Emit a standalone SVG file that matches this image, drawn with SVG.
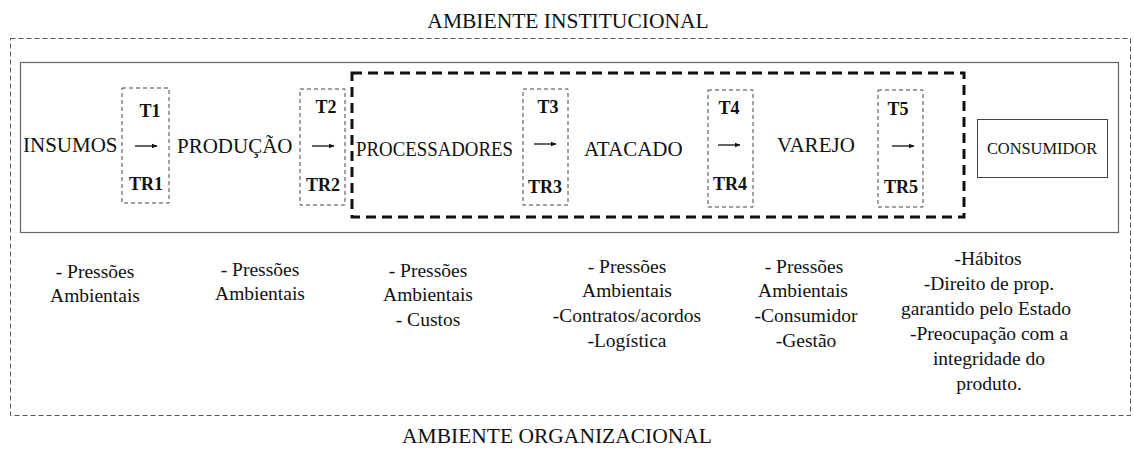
<svg xmlns="http://www.w3.org/2000/svg" width="1134" height="450" viewBox="0 0 1134 450" font-family="'Liberation Serif', 'Times New Roman', serif">
<style>
.env{font-size:21.5px;text-anchor:middle;fill:#111;}
.node{font-size:21px;fill:#111;}
.t{font-size:18px;font-weight:bold;text-anchor:middle;fill:#111;}
.note{font-size:19.5px;text-anchor:middle;fill:#111;}
.outer{fill:none;stroke:#555;stroke-width:1;stroke-dasharray:5 3;}
.inner{fill:none;stroke:#666;stroke-width:1.2;}
.chain{fill:none;stroke:#111;stroke-width:3;stroke-dasharray:10 6;}
.tbox{fill:none;stroke:#444;stroke-width:1;stroke-dasharray:4 3;}
.arr{stroke:#111;stroke-width:1.3;marker-end:url(#ah);}
</style>
<defs>
<marker id="ah" viewBox="0 0 10 10" refX="9" refY="5" markerWidth="6" markerHeight="6" markerUnits="userSpaceOnUse" orient="auto">
<path d="M0,1 L10,5 L0,9 Z" fill="#111"/>
</marker>
</defs>
<rect width="1134" height="450" fill="#fff"/>

<g id="ambiente-institucional" font-family="'Liberation Serif', serif">
<text class="env" x="568" y="28">AMBIENTE INSTITUCIONAL</text>
<rect class="outer" x="10.5" y="38.5" width="1120" height="377"/>
</g>
<g id="cadeia">
<rect class="inner" x="20.5" y="62.5" width="1098" height="170"/>
</g>
<g id="ambiente-organizacional" font-family="'Liberation Serif', serif">
<text class="env" x="557" y="443">AMBIENTE ORGANIZACIONAL</text>
</g>
<g id="grupo-tracejado">
<rect class="chain" x="352" y="73" width="612" height="144"/>
</g>

<g id="insumos" font-family="'Liberation Serif', serif"><text class="node" x="23" y="152">INSUMOS</text></g>
<g id="producao" font-family="'Liberation Serif', serif"><text class="node" x="177" y="153">PRODUÇÃO</text></g>
<g id="processadores" font-family="'Liberation Serif', serif"><text class="node" x="356" y="156" font-size="19" textLength="157" lengthAdjust="spacingAndGlyphs">PROCESSADORES</text></g>
<g id="atacado" font-family="'Liberation Serif', serif"><text class="node" x="584" y="156">ATACADO</text></g>
<g id="varejo" font-family="'Liberation Serif', serif"><text class="node" x="777" y="152">VAREJO</text></g>
<g id="consumidor" font-family="'Liberation Serif', serif">
<rect x="977.5" y="119.5" width="130" height="58" fill="none" stroke="#444" stroke-width="1"/>
<text x="1042" y="154" font-size="16.4" text-anchor="middle" fill="#111">CONSUMIDOR</text>
</g>

<g id="t1" font-family="'Liberation Serif', serif"><rect class="tbox" x="122" y="88" width="47" height="115"/><text class="t" x="150" y="117">T1</text><text class="t" x="146" y="190">TR1</text></g>
<g id="t2" font-family="'Liberation Serif', serif"><rect class="tbox" x="300" y="89" width="45" height="116"/><text class="t" x="326" y="113">T2</text><text class="t" x="323" y="191">TR2</text></g>
<g id="t3" font-family="'Liberation Serif', serif"><rect class="tbox" x="523" y="89" width="45" height="116"/><text class="t" x="548" y="113">T3</text><text class="t" x="545" y="193">TR3</text></g>
<g id="t4" font-family="'Liberation Serif', serif"><rect class="tbox" x="708" y="90" width="45" height="117"/><text class="t" x="729" y="114">T4</text><text class="t" x="730" y="190">TR4</text></g>
<g id="t5" font-family="'Liberation Serif', serif"><rect class="tbox" x="878" y="90" width="45" height="117"/><text class="t" x="898" y="115">T5</text><text class="t" x="901" y="193">TR5</text></g>

<g id="connectors">
<line class="arr" x1="135" y1="146" x2="157" y2="146"/>
<line class="arr" x1="312" y1="146" x2="334" y2="146"/>
<line class="arr" x1="534" y1="144" x2="556" y2="144"/>
<line class="arr" x1="718" y1="145" x2="740" y2="145"/>
<line class="arr" x1="892" y1="146" x2="914" y2="146"/>
</g>

<g id="notas" font-family="'Liberation Serif', serif">
<g id="nota-insumos"><text class="note" x="95" y="278">- Pressões</text><text class="note" x="95" y="302">Ambientais</text></g>
<g id="nota-producao"><text class="note" x="260" y="276">- Pressões</text><text class="note" x="260" y="300">Ambientais</text></g>
<g id="nota-processadores"><text class="note" x="428" y="277">- Pressões</text><text class="note" x="428" y="301">Ambientais</text><text class="note" x="428" y="326">- Custos</text></g>
<g id="nota-atacado"><text class="note" x="627" y="273">- Pressões</text><text class="note" x="627" y="297">Ambientais</text><text class="note" x="627" y="322">-Contratos/acordos</text><text class="note" x="627" y="347">-Logística</text></g>
<g id="nota-varejo"><text class="note" x="804" y="273">- Pressões</text><text class="note" x="803" y="297">Ambientais</text><text class="note" x="806" y="322">-Consumidor</text><text class="note" x="806" y="347">-Gestão</text></g>
<g id="nota-consumidor"><text class="note" x="988" y="265">-Hábitos</text><text class="note" x="989" y="290">-Direito de prop.</text><text class="note" x="986" y="315">garantido pelo Estado</text><text class="note" x="989" y="340">-Preocupação com a</text><text class="note" x="989" y="365">integridade do</text><text class="note" x="989" y="390">produto.</text></g>
</g>
</svg>
